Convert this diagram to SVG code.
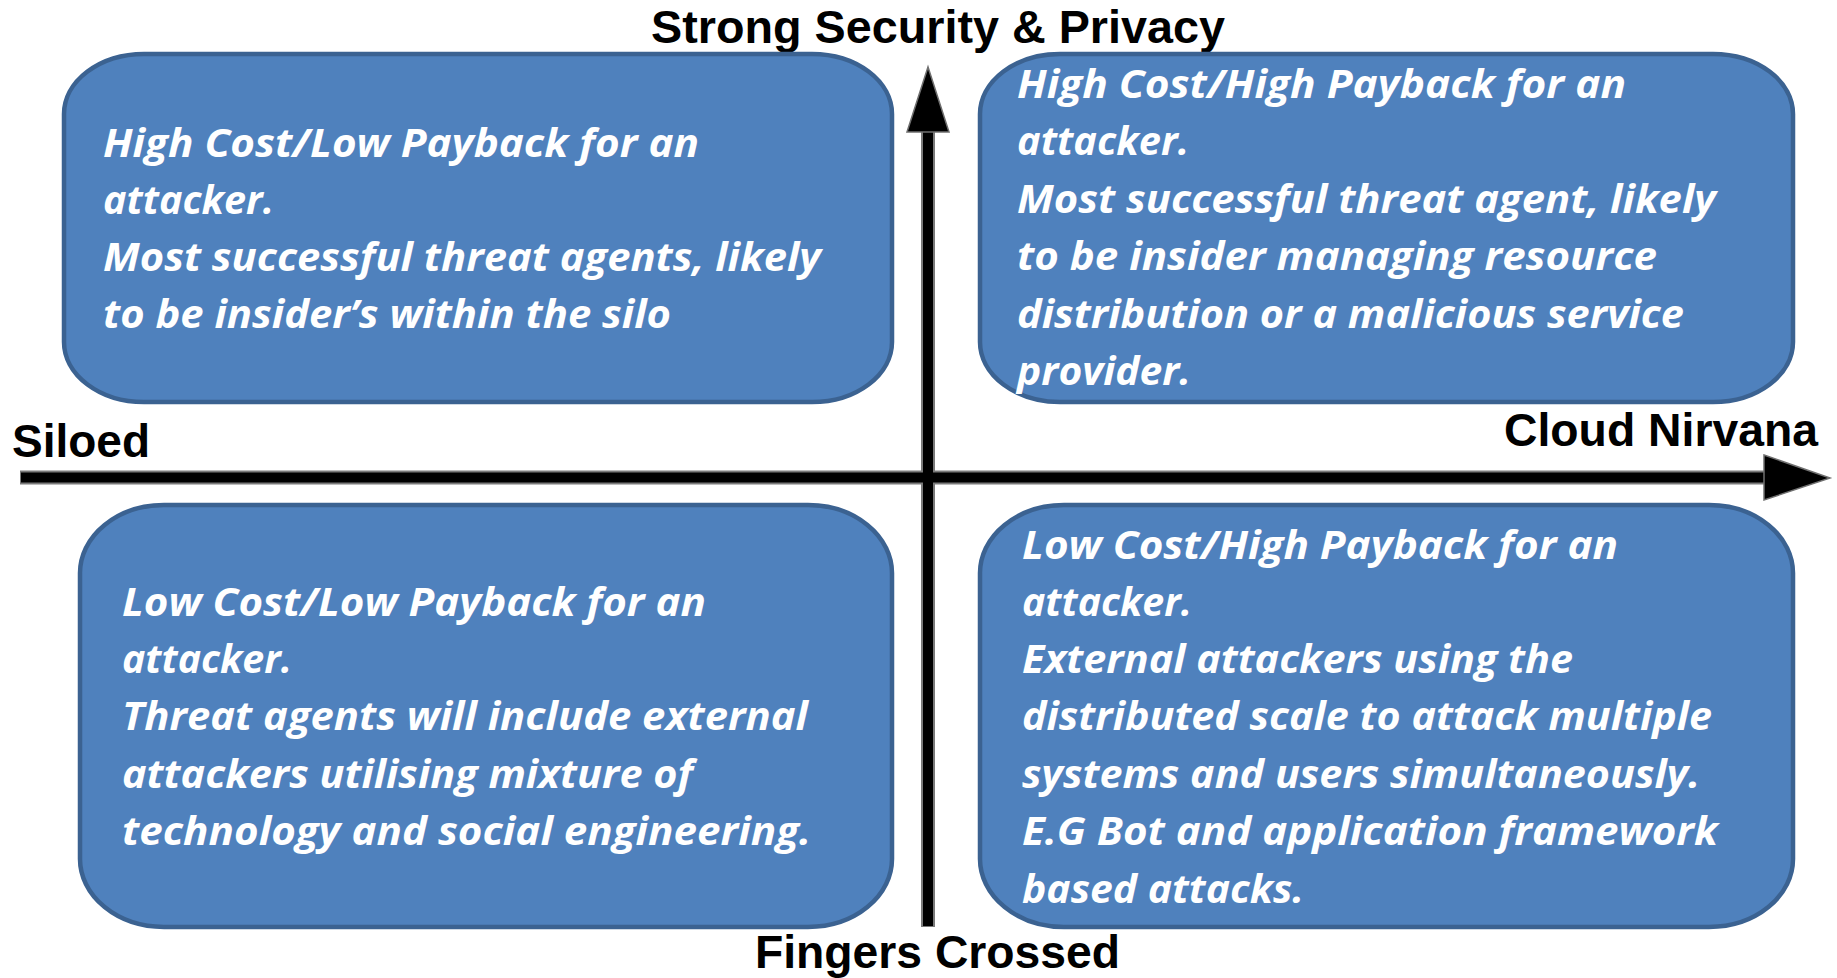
<svg xmlns="http://www.w3.org/2000/svg" width="1837" height="978" viewBox="0 0 1837 978">
  <style>
    .box { fill: #4F81BD; stroke: #3B6291; stroke-width: 4.5; }
    .body { font-family: "Open Sans", "Noto Sans", sans-serif; font-weight: bold; font-style: italic; font-size: 39px; fill: #ffffff; }
    .axis-label { font-family: "Liberation Sans", Arial, sans-serif; font-weight: bold; font-size: 46px; fill: #000000; }
    .axis-halo { stroke: #7a7a7a; stroke-width: 14; fill: none; }
    .axis-core { stroke: #000000; stroke-width: 10; fill: none; }
    .head { fill: #000000; stroke: #6f6f6f; stroke-width: 1.5; stroke-linejoin: miter; }
  </style>
  <rect width="1837" height="978" fill="#ffffff"/>

  <!-- axes -->
  <g id="connectors">
    <line class="axis-halo" x1="20" y1="477.5" x2="1768" y2="477.5"/>
    <line class="axis-halo" x1="928" y1="927" x2="928" y2="128"/>
    <line class="axis-core" x1="21" y1="477.5" x2="1768" y2="477.5"/>
    <line class="axis-core" x1="928" y1="926" x2="928" y2="128"/>
    <polygon class="head" points="1764,455 1830,478 1764,500"/>
    <polygon class="head" points="907,132 928,67 949,132"/>
  </g>

  <!-- axis labels -->
  <g id="label-top">
    <text class="axis-label" x="651" y="43" textLength="574" lengthAdjust="spacingAndGlyphs">Strong Security &amp; Privacy</text>
  </g>
  <g id="label-left">
    <text class="axis-label" x="12" y="457" textLength="138" lengthAdjust="spacingAndGlyphs">Siloed</text>
  </g>
  <g id="label-right">
    <text class="axis-label" x="1504" y="446" textLength="314" lengthAdjust="spacingAndGlyphs">Cloud Nirvana</text>
  </g>
  <g id="label-bottom">
    <text class="axis-label" x="755" y="968" textLength="365" lengthAdjust="spacingAndGlyphs">Fingers Crossed</text>
  </g>

  <!-- quadrant: siloed / strong security -->
  <g id="quadrant-top-left">
    <rect class="box" x="64" y="54" width="828" height="348" rx="80" ry="60"/>
    <text class="body" x="103" y="157" textLength="596" lengthAdjust="spacingAndGlyphs">High Cost/Low Payback for an</text>
    <text class="body" x="103" y="214" textLength="171" lengthAdjust="spacingAndGlyphs">attacker.</text>
    <text class="body" x="103" y="271" textLength="718" lengthAdjust="spacingAndGlyphs">Most successful threat agents, likely</text>
    <text class="body" x="103" y="328" textLength="568" lengthAdjust="spacingAndGlyphs">to be insider’s within the silo</text>
  </g>

  <!-- quadrant: cloud / strong security -->
  <g id="quadrant-top-right">
    <rect class="box" x="980" y="54" width="813" height="348" rx="80" ry="60"/>
    <text class="body" x="1017" y="98" textLength="609" lengthAdjust="spacingAndGlyphs">High Cost/High Payback for an</text>
    <text class="body" x="1017" y="155" textLength="172" lengthAdjust="spacingAndGlyphs">attacker.</text>
    <text class="body" x="1017" y="213" textLength="699" lengthAdjust="spacingAndGlyphs">Most successful threat agent, likely</text>
    <text class="body" x="1017" y="270" textLength="640" lengthAdjust="spacingAndGlyphs">to be insider managing resource</text>
    <text class="body" x="1017" y="328" textLength="667" lengthAdjust="spacingAndGlyphs">distribution or a malicious service</text>
    <text class="body" x="1017" y="385" textLength="174" lengthAdjust="spacingAndGlyphs">provider.</text>
  </g>

  <!-- quadrant: siloed / fingers crossed -->
  <g id="quadrant-bottom-left">
    <rect class="box" x="80" y="505" width="812" height="422" rx="84" ry="68"/>
    <text class="body" x="122" y="616" textLength="584" lengthAdjust="spacingAndGlyphs">Low Cost/Low Payback for an</text>
    <text class="body" x="122" y="673" textLength="170" lengthAdjust="spacingAndGlyphs">attacker.</text>
    <text class="body" x="122" y="730" textLength="686" lengthAdjust="spacingAndGlyphs">Threat agents will include external</text>
    <text class="body" x="122" y="788" textLength="571" lengthAdjust="spacingAndGlyphs">attackers utilising mixture of</text>
    <text class="body" x="122" y="845" textLength="689" lengthAdjust="spacingAndGlyphs">technology and social engineering.</text>
  </g>

  <!-- quadrant: cloud / fingers crossed -->
  <g id="quadrant-bottom-right">
    <rect class="box" x="980" y="505" width="813" height="422" rx="84" ry="68"/>
    <text class="body" x="1022" y="559" textLength="596" lengthAdjust="spacingAndGlyphs">Low Cost/High Payback for an</text>
    <text class="body" x="1022" y="616" textLength="170" lengthAdjust="spacingAndGlyphs">attacker.</text>
    <text class="body" x="1022" y="673" textLength="551" lengthAdjust="spacingAndGlyphs">External attackers using the</text>
    <text class="body" x="1022" y="730" textLength="690" lengthAdjust="spacingAndGlyphs">distributed scale to attack multiple</text>
    <text class="body" x="1022" y="788" textLength="678" lengthAdjust="spacingAndGlyphs">systems and users simultaneously.</text>
    <text class="body" x="1022" y="845" textLength="696" lengthAdjust="spacingAndGlyphs">E.G Bot and application framework</text>
    <text class="body" x="1022" y="903" textLength="282" lengthAdjust="spacingAndGlyphs">based attacks.</text>
  </g>
</svg>
